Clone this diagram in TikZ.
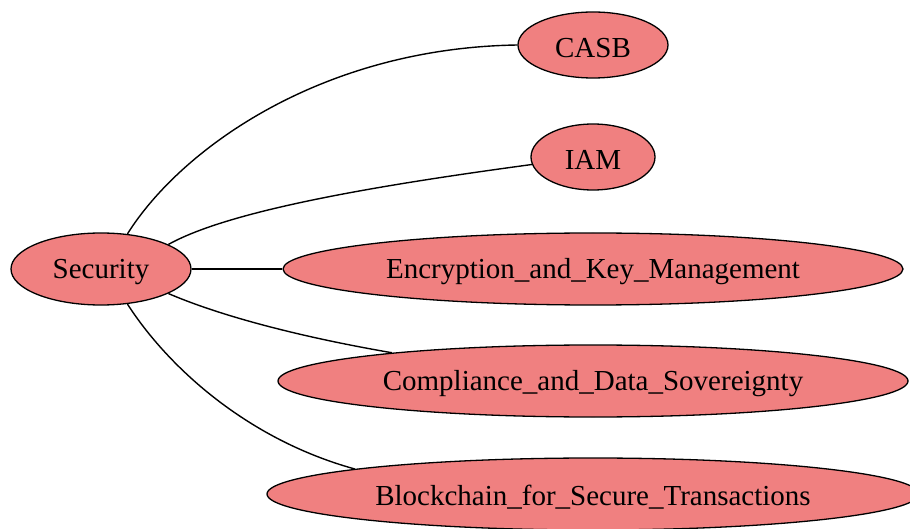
\documentclass[tikz,border=0pt]{standalone}
\usepackage{fontspec}
\setmainfont{Liberation Serif}
\usetikzlibrary{shapes.geometric}
\definecolor{nodefill}{HTML}{F08080}
\newcommand{\lowtext}[1]{\raisebox{-3pt}[\height][\depth]{#1}}
\begin{document}
\begin{tikzpicture}[x=1pt,y=-1pt,
  ell/.style={ellipse,draw=black,fill=nodefill,line width=1.3pt,inner sep=0pt,
    font=\fontsize{29}{34}\selectfont},
  edge/.style={draw=black,line width=1.4pt}]
\useasboundingbox (0,0) rectangle (910,529);
\clip (0,0) rectangle (910,529);
\fill[white] (0,0) rectangle (910,529);
\node[ell,minimum width=180pt,minimum height=72pt] (sec) at (101,269) {\lowtext{Security}};
\node[ell,minimum width=150pt,minimum height=66pt] (casb) at (593,45) {\lowtext{CASB}};
\node[ell,minimum width=124pt,minimum height=66pt] (iam) at (593,157) {\lowtext{IAM}};
\node[ell,minimum width=620pt,minimum height=72pt] (enc) at (593,269) {\lowtext{Encryption\_and\_Key\_Management}};
\node[ell,minimum width=630pt,minimum height=72pt] (comp) at (593,381) {\lowtext{Compliance\_and\_Data\_Sovereignty}};
\node[ell,minimum width=652pt,minimum height=72pt] (bc) at (593,494) {\lowtext{Blockchain\_for\_Secure\_Transactions}};
\draw[edge] (sec.53) .. controls (180,150) and (320,48) .. (casb.west);
\draw[edge] (sec.20.6) .. controls (230,210) and (380,185) .. (iam.187);
\draw[edge] (sec.east) -- (enc.west);
\draw[edge] (sec.-20.6) .. controls (230,320) and (318,340) .. (comp.172.5);
\draw[edge] (sec.-53) .. controls (170,370) and (250,440) .. (bc.174.6);
\end{tikzpicture}
\end{document}
